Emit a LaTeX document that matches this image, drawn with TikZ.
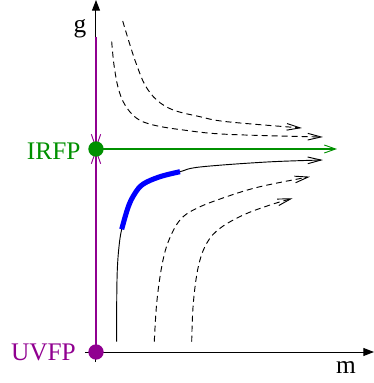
\documentclass[tikz,border=0pt]{standalone}
\usepackage{fontspec}
\setmainfont{Liberation Serif}
\usetikzlibrary{arrows.meta, positioning}
\definecolor{irgreen}{RGB}{0,144,0}
\definecolor{uvpurple}{RGB}{144,0,144}

\begin{document}
\begin{tikzpicture}[
    x=0.75pt, y=0.75pt,
    every node/.style={
            font=\fontsize{19}{23}\selectfont,
            inner sep=0pt
        },
    axis/.style={line width=0.75pt, -{Triangle[length=8pt, width=6pt]}},
    barb/.style={-{Straight Barb[length=10pt, width=5pt, line width=0.7pt]}},
    flow_line/.style={barb, line width=0.7pt},
    dashed_flow/.style={flow_line, dash pattern=on 4.5pt off 3pt},
    fixed_point/.style={circle, minimum size=11.5pt},
    uv_line/.style={-{Straight Barb[length=10pt, width=7pt, line width=0.7pt]}, draw=uvpurple, line width=1.4pt},
    ir_line/.style={-{Straight Barb[length=8.5pt, width=6pt, line width=0.7pt]}, draw=irgreen, line width=1.4pt},
    ]

    \useasboundingbox (-96,-31) rectangle (278,352);

    % --- Axes ---
    \coordinate (m_start) at (-11,0);
    \coordinate (m_end) at (278,0);
    \coordinate (g_start) at (0,-10);
    \coordinate (g_end) at (0,352);
    \draw[axis] (m_start) -- (m_end);
    \draw[axis] (g_start) -- (g_end);
    \node (g_label) at (-16,323) {g};
    \node (m_label) at (250,-15.5) {m};

    % --- Fixed points ---
    \coordinate (uv_pt) at (0,0);
    \coordinate (ir_pt) at (0,203);
    \coordinate (uv_top) at (0,315);
    \coordinate (ir_end) at (241,203);
    \draw[uv_line] (uv_top) -- (ir_pt);
    \draw[uv_line] (uv_pt) -- (ir_pt);
    \draw[ir_line] (ir_pt) -- (ir_end);
    \node[fixed_point, fill=irgreen] (irfp) at (ir_pt) {};
    \node[fixed_point, fill=uvpurple] (uvfp) at (uv_pt) {};
    \node (irfp_label) [left=5.5pt of irfp, yshift=-2pt, text=irgreen] {IRFP};
    \node (uvfp_label) [left=9pt of uvfp, text=uvpurple] {UVFP};

    % --- Flows ---
    \draw[dashed_flow] plot[smooth, tension=0.6] coordinates
        {(26.7,331) (34,307) (40.7,287) (49,267) (60.7,252) (77.3,242) (104,235.3) (130.7,230.3) (206,224)};
    \draw[dashed_flow] plot[smooth, tension=0.6] coordinates
        {(15.7,310.3) (18,287) (22.3,263.7) (29,247) (40.7,233.7) (57.3,227) (87.3,222) (130.7,217.7) (227,215)};
    \draw[flow_line] plot[smooth, tension=0.6] coordinates
        {(20.7,10.3) (20.7,48.7) (21.3,82) (23,105.3) (25.7,122.7) (32.3,145.3) (39,158.7) (47.3,168) (64,175.3) (84,180.3) (104,185) (171,190) (227,192)};
    \draw[blue, line width=3.8pt] plot[smooth, tension=0.6] coordinates
        {(25.7,122.7) (32.3,145.3) (39,158.7) (47.3,168) (64,175.3) (84,180.3)};
    \draw[dashed_flow] plot[smooth, tension=0.6] coordinates
        {(58.3,10.3) (60.7,48.7) (65.7,85.3) (72.3,110.3) (84,132) (100.7,143.7) (130.7,155.3) (164,165.3) (214,175.3)};
    \draw[dashed_flow] plot[smooth, tension=0.6] coordinates
        {(95.7,10.3) (97.3,48.7) (102.3,85.3) (110.7,108.7) (124,123.7) (147.3,137) (174,147) (196.7,153.7)};

\end{tikzpicture}
\end{document}
